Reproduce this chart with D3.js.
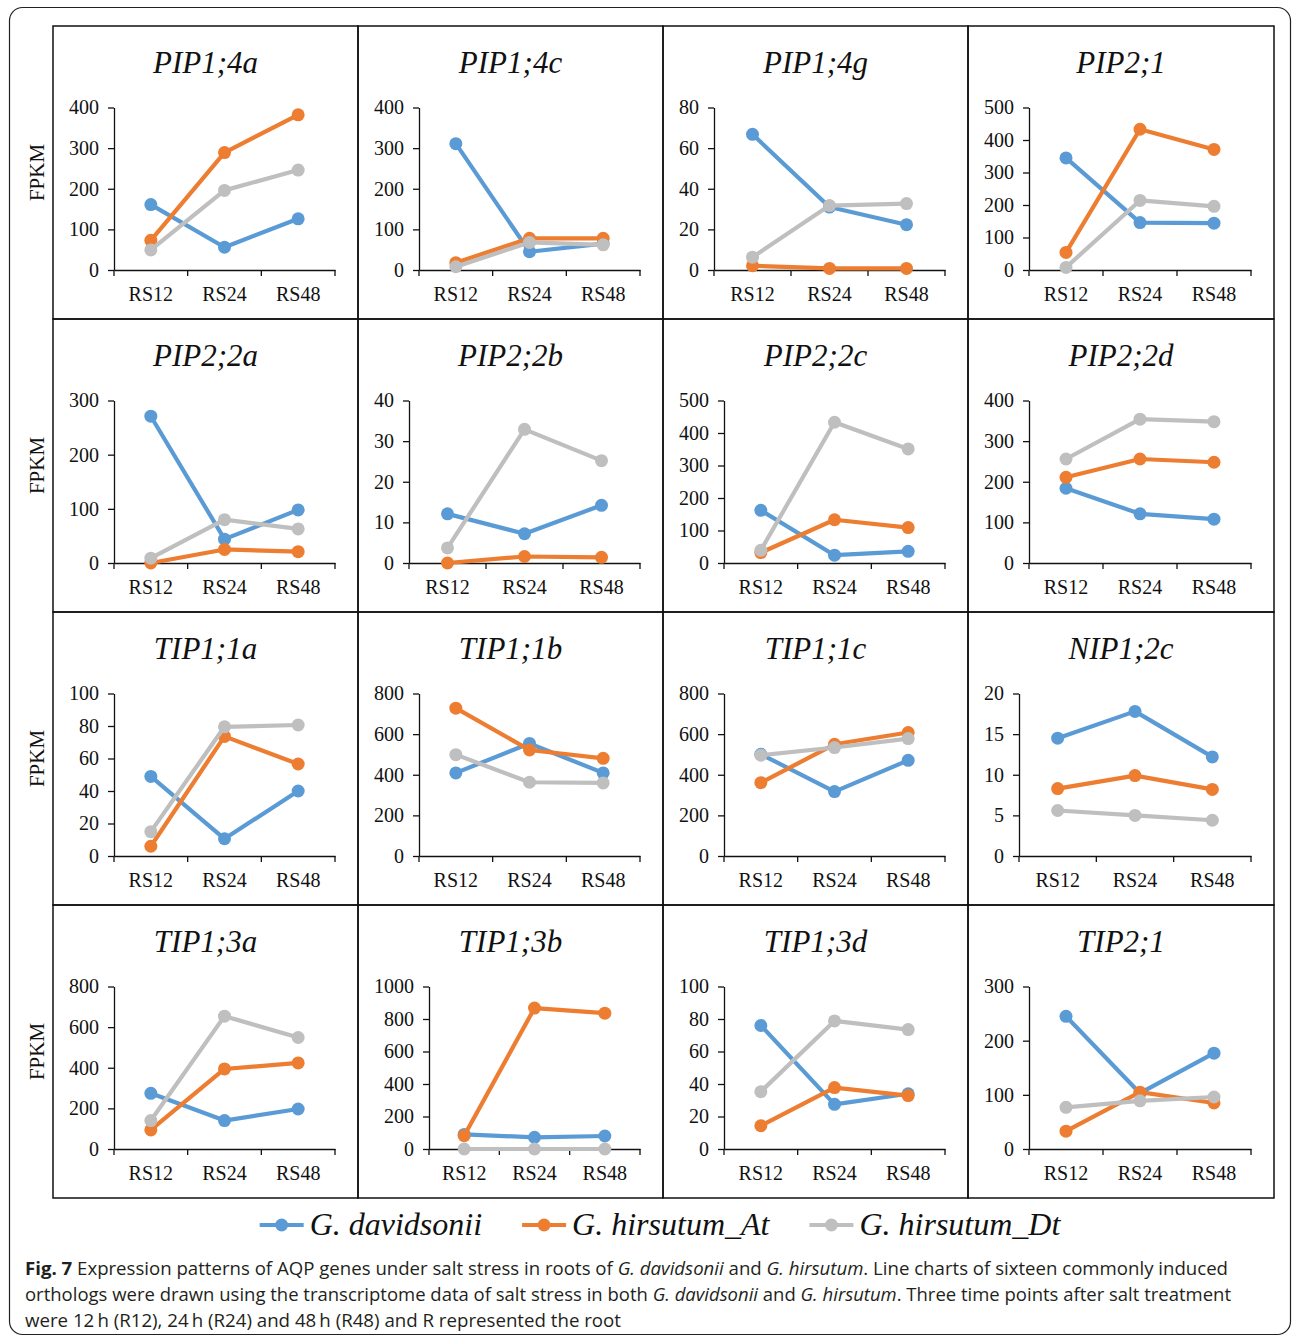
<!DOCTYPE html>
<html>
<head>
<meta charset="utf-8">
<script src="https://cdn.jsdelivr.net/npm/d3@7"></script>
<style>
  html, body { margin: 0; padding: 0; background: #fff; }
  svg { display: block; }
  .serif { font-family: "Liberation Serif", "Times New Roman", Times, serif; }
  .sans { font-family: "Open Sans", "Noto Sans", sans-serif; }
</style>
</head>
<body>
<svg id="chart" width="1292" height="1339"></svg>
<script>
// ---------------- DATA ----------------
const categories = ["RS12", "RS24", "RS48"];
const genes = ["PIP1;4a", "PIP1;4c", "PIP1;4g", "PIP2;1",
               "PIP2;2a", "PIP2;2b", "PIP2;2c", "PIP2;2d",
               "TIP1;1a", "TIP1;1b", "TIP1;1c", "NIP1;2c",
               "TIP1;3a", "TIP1;3b", "TIP1;3d", "TIP2;1"];
const yMax  = [400, 400, 80, 500,  300, 40, 500, 400,  100, 800, 800, 20,  800, 1000, 100, 300];
const yStep = [100, 100, 20, 100,  100, 10, 100, 100,   20, 200, 200,  5,  200,  200,  20, 100];
const seriesNames = ["G. davidsonii", "G. hirsutum_At", "G. hirsutum_Dt"];
const gDavidsonii = [
  [161, 56, 126], [311, 45, 65], [66.8, 31, 22.3], [345, 146, 144],
  [271, 44, 98], [12.1, 7.2, 14.2], [162, 24, 36], [184, 121, 108],
  [49, 10.6, 40], [409, 554, 409], [501, 317, 471], [14.5, 17.8, 12.2],
  [274, 140, 197], [90, 72, 80], [76, 27.5, 34], [245, 103, 177]
];
const gHirsutumAt = [
  [73, 289, 382], [18, 78, 78], [2.1, 0.8, 0.8], [54, 433, 371],
  [0, 25, 21], [0, 1.6, 1.4], [32, 133, 109], [211, 256, 248],
  [6, 73.6, 56.6], [728, 522, 481], [361, 550, 608], [8.3, 9.9, 8.2],
  [94, 394, 424], [82, 867, 836], [14.3, 37.8, 32.9], [33, 105, 85]
];
const gHirsutumDt = [
  [49.5, 196, 246], [8, 68, 62], [6.3, 31.7, 32.7], [8, 214, 196],
  [9, 80, 63], [3.7, 32.9, 25.2], [39, 433, 351], [256, 354, 348],
  [15, 79.5, 80.6], [499, 363, 360], [496, 534, 578], [5.6, 5.0, 4.4],
  [140, 654, 549], [0, 0, 0], [35.3, 78.8, 73.5], [77, 89, 96]
];
const captionLines = [
  [["Fig. 7", "b"], [" Expression patterns of AQP genes under salt stress in roots of ", ""], ["G. davidsonii", "i"], [" and ", ""], ["G. hirsutum", "i"], [". Line charts of sixteen commonly induced", ""]],
  [["orthologs were drawn using the transcriptome data of salt stress in both ", ""], ["G. davidsonii", "i"], [" and ", ""], ["G. hirsutum", "i"], [". Three time points after salt treatment", ""]],
  [["were 12\u2009h (R12), 24\u2009h (R24) and 48\u2009h (R48) and R represented the root", ""]]
];

// ---------------- STYLE / LAYOUT ----------------
const colors = ["#5B9BD5", "#ED7D31", "#BFBFBF"];
const allSeries = [gDavidsonii, gHirsutumAt, gHirsutumDt];
const colX = [53, 358, 663, 968, 1274];
const rowY = [26, 319, 612, 905, 1198];

const svg = d3.select("#chart");

// outer rounded frame
svg.append("rect")
  .attr("x", 9.5).attr("y", 7.5)
  .attr("width", 1281).attr("height", 1327)
  .attr("rx", 13).attr("ry", 13)
  .attr("fill", "none").attr("stroke", "#222").attr("stroke-width", 1.2);

// measure helper
const measurer = svg.append("text").attr("class", "serif").attr("opacity", 0);
function textW(s, size, style) {
  measurer.style("font-size", size + "px").style("font-style", style || "normal").text(s);
  return measurer.node().getComputedTextLength();
}

genes.forEach((gene, i) => {
  const r = Math.floor(i / 4), c = i % 4;
  const px = colX[c], py = rowY[r];
  const pw = colX[c + 1] - colX[c], ph = rowY[r + 1] - rowY[r];
  const g = svg.append("g");

  // panel border
  g.append("rect").attr("x", px).attr("y", py).attr("width", pw).attr("height", ph)
    .attr("fill", "none").attr("stroke", "#111").attr("stroke-width", 1.5);

  // title
  g.append("text").attr("class", "serif").attr("x", px + pw / 2).attr("y", py + 47)
    .attr("text-anchor", "middle")
    .style("font-style", "italic").style("font-size", "31px").attr("fill", "#111")
    .text(gene);

  const ticks = d3.range(0, yMax[i] + yStep[i] / 2, yStep[i]);
  const maxLabW = d3.max(ticks, t => textW(String(t), 20));
  const left = px + 15 + maxLabW + 16;
  const right = px + pw - 23;
  const top = py + 81.5, bottom = py + 244;

  const x = d3.scaleBand().domain(categories).range([left, right]);
  const y = d3.scaleLinear().domain([0, yMax[i]]).range([bottom, top]);

  // y axis
  const ya = g.append("g").attr("transform", `translate(${left},0)`)
    .call(d3.axisLeft(y).tickValues(ticks).tickFormat(d3.format("d"))
      .tickSize(6).tickSizeOuter(0).tickPadding(9));
  ya.attr("font-family", null).attr("font-size", null);
  ya.selectAll("text").attr("class", "serif").style("font-size", "20px").attr("fill", "#111");
  ya.selectAll("line,path").attr("stroke", "#111").attr("stroke-width", 1.3);

  // x axis
  const xa = g.append("g").attr("transform", `translate(0,${bottom})`)
    .call(d3.axisBottom(x).tickSize(0).tickSizeOuter(0).tickPadding(17));
  xa.attr("font-family", null).attr("font-size", null);
  xa.selectAll("text").attr("class", "serif").style("font-size", "20px").attr("fill", "#111");
  xa.selectAll("path").attr("stroke", "#111").attr("stroke-width", 1.3);
  const bounds = categories.map(d => x(d)).concat([x(categories[categories.length - 1]) + x.bandwidth()]);
  g.selectAll("line.xt").data(bounds).enter().append("line")
    .attr("x1", d => d).attr("x2", d => d).attr("y1", bottom).attr("y2", bottom + 6)
    .attr("stroke", "#111").attr("stroke-width", 1.3);

  // FPKM label for first column
  if (c === 0) {
    g.append("text").attr("class", "serif")
      .attr("transform", `translate(${px - 9},${py + ph / 2}) rotate(-90)`)
      .attr("text-anchor", "middle")
      .style("font-size", "21px").attr("fill", "#111").text("FPKM");
  }

  // series
  const line = d3.line().x((d, k) => x(categories[k]) + x.bandwidth() / 2).y(d => y(d));
  allSeries.forEach((s, k) => {
    const vals = s[i];
    g.append("path").datum(vals).attr("d", line)
      .attr("fill", "none").attr("stroke", colors[k]).attr("stroke-width", 4.2)
      .attr("stroke-linejoin", "round");
    g.selectAll(null).data(vals).enter().append("circle")
      .attr("cx", (d, j) => x(categories[j]) + x.bandwidth() / 2)
      .attr("cy", d => y(d)).attr("r", 6.5).attr("fill", colors[k]);
  });
});

// legend
const legY = 1225;
const legFont = 32;
const itemW = seriesNames.map(n => 44 + 6 + textW(n, legFont, "italic"));
const gap = 40;
const totalW = d3.sum(itemW) + gap * (seriesNames.length - 1);
let lx = 660 - totalW / 2;
const leg = svg.append("g");
seriesNames.forEach((n, k) => {
  leg.append("line").attr("x1", lx).attr("x2", lx + 44).attr("y1", legY).attr("y2", legY)
    .attr("stroke", colors[k]).attr("stroke-width", 4.2);
  leg.append("circle").attr("cx", lx + 22).attr("cy", legY).attr("r", 6.5).attr("fill", colors[k]);
  leg.append("text").attr("class", "serif").attr("x", lx + 50).attr("y", legY + 10)
    .style("font-style", "italic").style("font-size", legFont + "px")
    .attr("fill", "#111").text(n);
  lx += itemW[k] + gap;
});

// caption
const capBase = [1275, 1301, 1327];
const capWidths = [1203, 1206, 596];
captionLines.forEach((parts, li) => {
  const t = svg.append("text").attr("class", "sans").attr("x", 25).attr("y", capBase[li])
    .style("font-size", "18.5px").attr("fill", "#231f20");
  parts.forEach(([s, st]) => {
    const ts = t.append("tspan").text(s);
    if (st === "b") ts.style("font-weight", "bold");
    if (st === "i") ts.style("font-style", "italic");
  });
  t.attr("textLength", capWidths[li]).attr("lengthAdjust", "spacingAndGlyphs");
});
measurer.remove();
</script>
</body>
</html>
